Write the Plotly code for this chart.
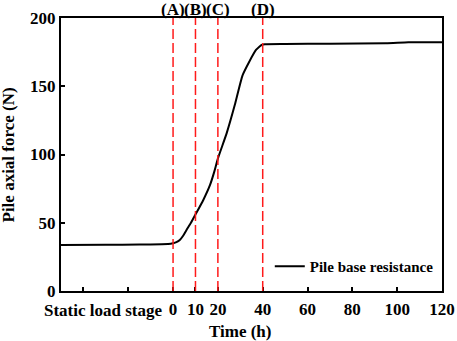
import plotly.graph_objects as go

time_h = [-50, -30, -15, -5, -1, 0, 1.5, 3, 4.5, 6, 8, 10, 13.5, 16.5, 18.5, 20, 24, 27.5, 31, 34, 37, 38.5, 39.5, 41, 50, 70, 95, 105, 120]
force_n = [33.7, 33.8, 34.0, 34.3, 34.6, 35, 35.8, 37.4, 40.5, 44.7, 50, 56, 66.7, 77.7, 88, 97, 116, 136, 158, 168, 176.6, 179, 180.2, 180.8, 181, 181.2, 181.5, 182.2, 182.2]

stage_x = [0, 10, 20, 40]
stage_labels = ["(A)", "(B)", "(C)", "(D)"]

x_tickvals = [-40, -20, 0, 10, 20, 40, 60, 80, 100, 120]
x_ticktext = ["", "", "0", "10", "20", "40", "60", "80", "100", "120"]
y_tickvals = [0, 50, 100, 150, 200]

FONT = "Liberation Serif, Times New Roman, serif"

fig = go.Figure()
fig.add_trace(go.Scatter(
    x=time_h, y=force_n, mode="lines", name="Pile base resistance",
    line=dict(color="black", width=2, shape="spline", smoothing=0.5),
))

for xv in stage_x:
    fig.add_shape(type="line", x0=xv, x1=xv, y0=0, y1=200, xref="x", yref="y",
                  line=dict(color="#ff1a1a", width=1.5, dash="10px,4px"))

annotations = []
for xv, lab in zip(stage_x, stage_labels):
    annotations.append(dict(x=xv, y=1.0, xref="x", yref="paper", text=lab, showarrow=False,
                            yanchor="bottom", yshift=-3, font=dict(size=17, family=FONT, weight="bold", color="black")))
annotations.append(dict(x=-3.5, y=0, xref="x", yref="paper", text="Static load stage", showarrow=False,
                        xanchor="right", yanchor="top", yshift=-8, font=dict(size=17, family=FONT, weight="bold", color="black")))
annotations.append(dict(x=30, y=0, xref="x", yref="paper", text="Time (h)", showarrow=False,
                        yanchor="top", yshift=-29, font=dict(size=17, family=FONT, weight="bold", color="black")))
annotations.append(dict(x=-0.1365, y=0.5, xref="paper", yref="paper", text="Pile axial force (N)", showarrow=False,
                        textangle=-90, xanchor="center", yanchor="middle", font=dict(size=17, family=FONT, weight="bold", color="black")))

fig.update_layout(
    width=457, height=341,
    margin=dict(l=61, r=15, t=18, b=50),
    paper_bgcolor="white", plot_bgcolor="white",
    font=dict(family=FONT, size=17, color="black", weight="bold"),
    showlegend=True,
    legend=dict(x=0.548, y=0.09, xanchor="left", yanchor="middle", bgcolor="rgba(0,0,0,0)",
                font=dict(size=15, family=FONT, weight="bold")),
    annotations=annotations,
)
fig.update_xaxes(range=[-50, 120], tickvals=x_tickvals, ticktext=x_ticktext,
                 ticks="inside", ticklen=4, tickwidth=1.5, tickcolor="black",
                 showline=True, linecolor="black", linewidth=2, mirror=True,
                 showgrid=False, zeroline=False, automargin=False, ticklabelstandoff=2)
fig.update_yaxes(range=[0, 200], tickvals=y_tickvals,
                 ticks="inside", ticklen=4, tickwidth=1.5, tickcolor="black",
                 showline=True, linecolor="black", linewidth=2, mirror=True,
                 showgrid=False, zeroline=False, automargin=False)

fig.write_html("out.html", config={"displayModeBar": False},
               post_script="document.body.style.margin='0';")
